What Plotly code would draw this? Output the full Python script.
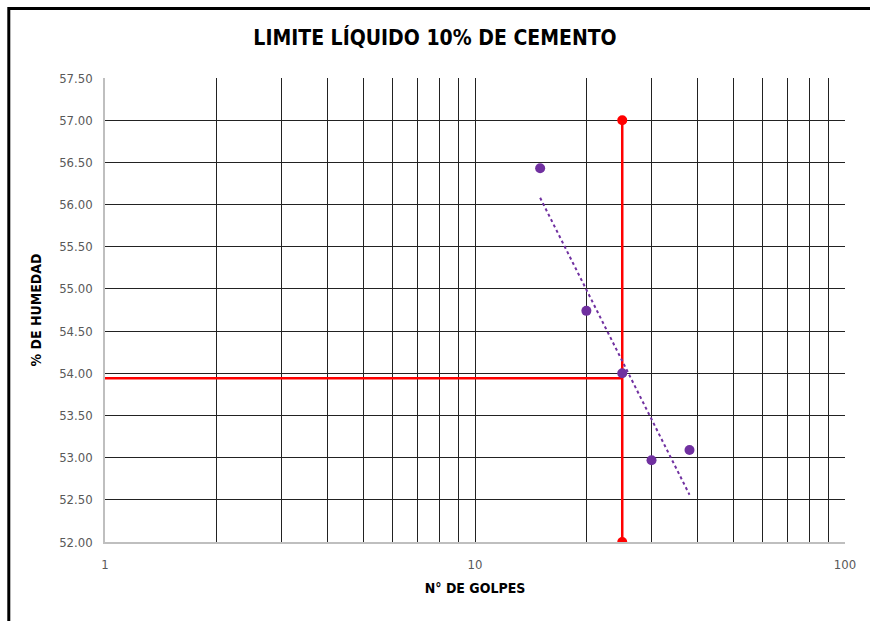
import plotly.graph_objects as go

# Ensayo de limite liquido (Casagrande)
golpes = [15, 20, 25, 30, 38]
humedad = [56.43, 54.74, 54.00, 52.97, 53.09]

# linea de tendencia (extremos)
tend_golpes = [15, 38]
tend_humedad = [56.08, 52.56]

# lectura a 25 golpes
ref_golpes = 25
limite_liquido = 53.94
y_min, y_max = 52.00, 57.00

y_ticks = [52.0, 52.5, 53.0, 53.5, 54.0, 54.5, 55.0, 55.5, 56.0, 56.5, 57.0, 57.5]
x_ticks = [1, 10, 100]
x_minor = [2, 3, 4, 5, 6, 7, 8, 9, 20, 30, 40, 50, 60, 70, 80, 90]

FONT = "DejaVu Sans Condensed, Liberation Sans Narrow, sans-serif"
RED = "#FF0000"
PURPLE = "#7030A0"

fig = go.Figure()

# lineas rojas de lectura
fig.add_trace(go.Scatter(
    x=[ref_golpes, ref_golpes], y=[y_min, y_max],
    mode="lines+markers",
    line=dict(color=RED, width=2.5),
    marker=dict(color=RED, size=10),
    showlegend=False, hoverinfo="skip",
))
fig.add_trace(go.Scatter(
    x=[1, ref_golpes], y=[limite_liquido, limite_liquido],
    mode="lines",
    line=dict(color=RED, width=2.5),
    showlegend=False, hoverinfo="skip",
))

# tendencia logaritmica
fig.add_trace(go.Scatter(
    x=tend_golpes, y=tend_humedad,
    mode="lines",
    line=dict(color=PURPLE, width=2, dash="dot"),
    showlegend=False, hoverinfo="skip",
))

# puntos del ensayo
fig.add_trace(go.Scatter(
    x=golpes, y=humedad,
    mode="markers",
    marker=dict(color=PURPLE, size=10),
    showlegend=False,
))

fig.update_layout(
    width=870, height=621,
    paper_bgcolor="white", plot_bgcolor="white",
    margin=dict(l=105, r=25, t=78, b=79),
    font=dict(family=FONT, color="#595959", size=13),
    title=dict(
        text="<b>LIMITE LÍQUIDO 10% DE CEMENTO</b>",
        x=0.5, xanchor="center", y=0.94, yanchor="middle",
        font=dict(family=FONT, size=21, color="black"),
    ),
    shapes=[dict(
        type="rect", xref="paper", yref="paper",
        x0=-0.13, x1=1.2, y0=-0.3, y1=1.15,
        line=dict(color="black", width=3),
    )],
)

fig.update_xaxes(
    type="log", range=[0, 2],
    tickvals=x_ticks, ticktext=[str(v) for v in x_ticks],
    showgrid=True, gridcolor="#222222", gridwidth=1,
    minor=dict(tickvals=x_minor, showgrid=True, gridcolor="#222222", gridwidth=1),
    showline=True, linecolor="#BFBFBF", linewidth=1.5,
    ticks="", ticklabelstandoff=10,
    zeroline=False,
    title=dict(text="<b>N° DE GOLPES</b>", standoff=12,
               font=dict(family=FONT, size=14, color="black")),
)
fig.update_yaxes(
    range=[52, 57.5],
    tickvals=y_ticks, ticktext=[f"{v:.2f}" for v in y_ticks],
    showgrid=True, gridcolor="#222222", gridwidth=1,
    showline=True, linecolor="#BFBFBF", linewidth=1.5,
    ticks="", ticklabelstandoff=8,
    zeroline=False,
    title=dict(text="<b>% DE HUMEDAD</b>", standoff=14,
               font=dict(family=FONT, size=14, color="black")),
)

fig.write_html("out.html", config={"displayModeBar": False},
               post_script="document.body.style.margin='0';")
